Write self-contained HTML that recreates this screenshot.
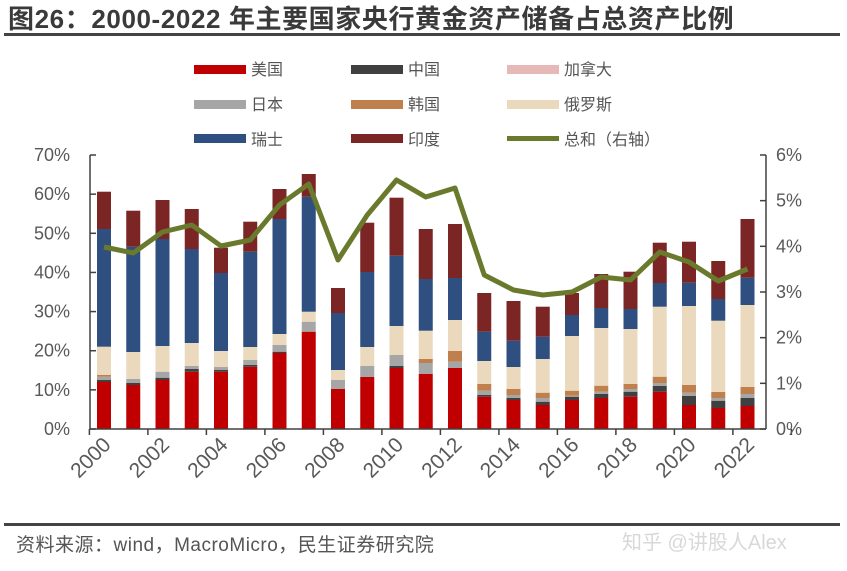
<!DOCTYPE html>
<html><head><meta charset="utf-8"><style>
html,body{margin:0;padding:0;background:#fff;}
svg{display:block;font-family:"Liberation Sans","Noto Sans CJK SC",sans-serif;}
</style></head><body>
<svg id="s" width="847" height="571" viewBox="0 0 847 571" xmlns="http://www.w3.org/2000/svg">
<text x="8" y="28" font-size="26" font-weight="bold" fill="#3a3a3a" letter-spacing="0.6">图26：2000-2022 年主要国家央行黄金资产储备占总资产比例</text>
<rect x="4" y="33" width="836" height="3" fill="#444"/>
<g font-size="16" fill="#555">
<rect x="194" y="65" width="52" height="9" fill="#c00000"/><text x="251" y="75">美国</text>
<rect x="351" y="65" width="52" height="9" fill="#404040"/><text x="408" y="75">中国</text>
<rect x="507" y="65" width="52" height="9" fill="#e6b9b8"/><text x="564" y="75">加拿大</text>
<rect x="194" y="100" width="52" height="9" fill="#a6a6a6"/><text x="251" y="110">日本</text>
<rect x="351" y="100" width="52" height="9" fill="#c0804d"/><text x="408" y="110">韩国</text>
<rect x="507" y="100" width="52" height="9" fill="#ead9bd"/><text x="564" y="110">俄罗斯</text>
<rect x="194" y="134" width="52" height="9" fill="#2e4f7f"/><text x="251" y="145">瑞士</text>
<rect x="351" y="134" width="52" height="9" fill="#7b2525"/><text x="408" y="145">印度</text>
<rect x="507" y="136" width="52" height="5" fill="#6a7a2c"/><text x="564" y="145">总和（右轴）</text>
</g>
<g id="bars"></g>
<g id="axes" stroke="#404040" stroke-width="1.5" fill="none"></g>
<g id="lbl" font-size="18" fill="#595959"></g>
<rect x="4" y="523" width="836" height="3" fill="#444"/>
<text x="16" y="551" font-size="19" fill="#555" letter-spacing="0.5">资料来源：wind，MacroMicro，民生证券研究院</text>
<text x="622" y="549" font-size="20" fill="#d8d8d8">知乎 @讲股人Alex</text>
</svg>
<script>
var cols=["#c00000","#404040","#a6a6a6","#c0804d","#ead9bd","#2e4f7f","#7b2525"];
var d=[
[382,380,376.7,375,346.7,229,191.7],
[385,383,379,379,352,246.7,210.7],
[380,377.7,371.7,371.7,346,239,200],
[371.7,369,366,366,343,249,209],
[371.7,370,367,367,351,273,247.7],
[366.7,365,360,360,347,251.7,221.7],
[353,351.7,345,345,334,219,189],
[331.7,331.7,321.7,321.7,311.7,196.7,174],
[389,389,380,380,370,313,288],
[377,377,366,366,347,272,222.7],
[368,366,355,355,326,255.7,197.7],
[374,374,363,359,330.7,279,229],
[368,368,361.7,351,320,278,224],
[396.7,395,390.7,384,361,331.7,293],
[400,398,395,389,367,340.7,301],
[405,401.7,398,392.7,359,336.7,306.7],
[400,396.7,395.7,390.7,336,315,293],
[398,394,391.7,385.7,328,308,274],
[396.7,391.7,389,384,329,309,271.7],
[391.7,386,383,376.7,306.7,283,242.7],
[405,396,392.7,385,306,282.7,241.7],
[408,400.7,398,392,320.7,299,261],
[406,398,394,387,305,277.7,219]];
var line=[247,253,232,225,246,240,205,184,260,215,180,197,188,275,290,295,292,277,280,252,262,281,269];
var ns="http://www.w3.org/2000/svg",bars=document.getElementById("bars");
function el(t,a,p){var e=document.createElementNS(ns,t);for(var k in a)e.setAttribute(k,a[k]);p.appendChild(e);return e;}
var pts=[];
for(var i=0;i<23;i++){var cx=104+i*29.25,prev=429;
 for(var j=0;j<7;j++){var t=d[i][j];if(prev-t>0.1)el("rect",{x:cx-7,y:t,width:14,height:prev-t,fill:cols[j]},bars);prev=t;}
 pts.push(cx+","+line[i]);}
el("polyline",{points:pts.join(" "),fill:"none",stroke:"#6a7a2c","stroke-width":5,"stroke-linejoin":"round"},bars);
var ax=document.getElementById("axes");
el("path",{d:"M90 155V429M90 429H766M766 155V429"},ax);
for(var k=0;k<=7;k++){var y=429-k*39.14;el("path",{d:"M90 "+y+"H96"},ax);}
for(var k=0;k<=6;k++){var y=429-k*45.67;el("path",{d:"M766 "+y+"H760"},ax);}
for(var k=0;k<=12;k++){var x=89.4+k*58.5;el("path",{d:"M"+x+" 429V435"},ax);}
var lb=document.getElementById("lbl");
for(var k=0;k<=7;k++){var t=el("text",{x:70,y:429-k*39.14+6,"text-anchor":"end"},lb);t.textContent=(k*10)+"%";}
for(var k=0;k<=6;k++){var t=el("text",{x:776,y:429-k*45.67+6},lb);t.textContent=k+"%";}
for(var k=0;k<12;k++){var x=104+k*2*29.25+8,y=446;var t=el("text",{x:x,y:y,"text-anchor":"end","font-size":"21",transform:"rotate(-45 "+x+" "+y+")"},lb);t.textContent=2000+2*k;}
</script>
</body></html>
